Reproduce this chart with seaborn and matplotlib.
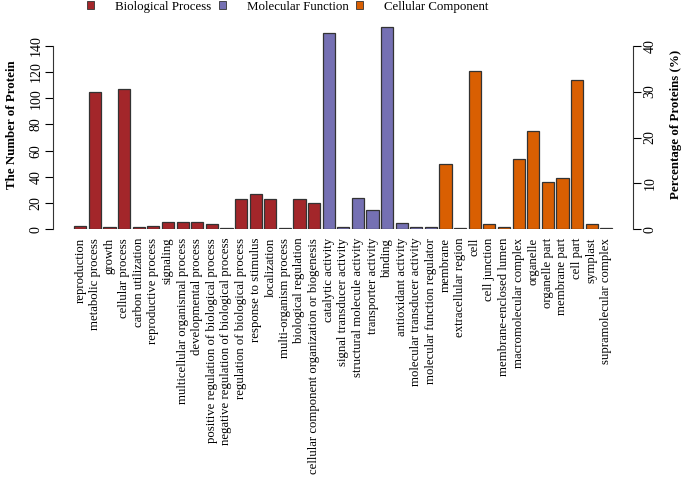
import pandas as pd
import matplotlib
matplotlib.use("Agg")
import matplotlib.pyplot as plt
from matplotlib.patches import Patch
import seaborn as sns

# GO categories
bp_terms = ["reproduction", "metabolic process", "growth", "cellular process",
            "carbon utilization", "reproductive process", "signaling",
            "multicellular organismal process", "developmental process",
            "positive regulation of biological process",
            "negative regulation of biological process",
            "regulation of biological process", "response to stimulus",
            "localization", "multi-organism process", "biological regulation",
            "cellular component organization or biogenesis"]
bp_counts = [3, 105, 2, 107, 2, 3, 6, 6, 6, 4, 1, 23, 27, 23, 1, 23, 20]

mf_terms = ["catalytic activity", "signal transducer activity",
            "structural molecule activity", "transporter activity", "binding",
            "antioxidant activity", "molecular transducer activity",
            "molecular function regulator"]
mf_counts = [150, 2, 24, 15, 154, 5, 2, 2]

cc_terms = ["membrane", "extracellular region", "cell", "cell junction",
            "membrane-enclosed lumen", "macromolecular complex", "organelle",
            "organelle part", "membrane part", "cell part", "symplast",
            "supramolecular complex"]
cc_counts = [50, 1, 121, 4, 2, 54, 75, 36, 39, 114, 4, 1]

groups = ["Biological Process", "Molecular Function", "Cellular Component"]
colors = ["#A3262A", "#7570B3", "#D95F02"]

# right axis: 40 % lines up with 140 proteins
COUNT_PER_PERCENT = 3.5


def build_frame():
    df = pd.DataFrame({
        "term": bp_terms + mf_terms + cc_terms,
        "count": bp_counts + mf_counts + cc_counts,
        "group": [groups[0]] * len(bp_terms) + [groups[1]] * len(mf_terms)
                 + [groups[2]] * len(cc_terms),
    })
    return df


def plot_go(df):
    plt.rcParams["font.family"] = ["Liberation Serif", "DejaVu Serif"]
    fig = plt.figure(figsize=(6.85, 4.78), dpi=100)
    ax = fig.add_axes([0.0774, 0.520, 0.8467, 0.4394])

    sns.barplot(data=df, x="term", y="count", hue="group", dodge=False,
                palette=dict(zip(groups, colors)), saturation=1, width=0.833,
                edgecolor="#333333", linewidth=0.9, legend=False, ax=ax)

    ax.set_xlim(-1.87, 37.83)
    ax.set_ylim(0, 160)
    ax.set_xlabel("")
    ax.set_ylabel("The Number of Protein", fontsize=9.3, fontweight="bold", labelpad=8)
    ax.set_yticks(range(0, 141, 20))
    ax.tick_params(axis="y", direction="out", length=5.5, width=0.8, labelsize=10,
                   labelrotation=90, pad=2)
    for t in ax.get_yticklabels():
        t.set_va("center")
    ax.tick_params(axis="x", length=0, labelsize=9.2, labelrotation=90, pad=6)
    for s in ["top", "right", "bottom"]:
        ax.spines[s].set_visible(False)
    ax.spines["left"].set_bounds(0, 140)
    ax.spines["left"].set_color("#333333")

    ax2 = ax.twinx()
    ax2.set_ylim(0, 160 / COUNT_PER_PERCENT)
    ax2.set_yticks(range(0, 41, 10))
    ax2.tick_params(axis="y", direction="out", length=5.5, width=0.8, labelsize=10,
                    labelrotation=90, pad=2)
    for t in ax2.get_yticklabels():
        t.set_va("center")
    for s in ["top", "left", "bottom"]:
        ax2.spines[s].set_visible(False)
    ax2.spines["right"].set_bounds(0, 40)
    ax2.spines["right"].set_color("#333333")
    ax2.set_ylabel("Percentage of Proteins (%)", fontsize=9.3, fontweight="bold",
                   labelpad=10)

    handles = [Patch(facecolor=c, edgecolor="#333333", linewidth=0.6) for c in colors]
    fig.legend(handles, groups, loc="center", bbox_to_anchor=(0.42, 0.986), ncol=3,
               frameon=False, fontsize=9.3, handlelength=0.55, handleheight=0.55,
               handletextpad=1.6, columnspacing=0.6, borderaxespad=0)

    fig.savefig("out.png", dpi=100)


def main():
    df = build_frame()
    plot_go(df)


if __name__ == "__main__":
    main()
